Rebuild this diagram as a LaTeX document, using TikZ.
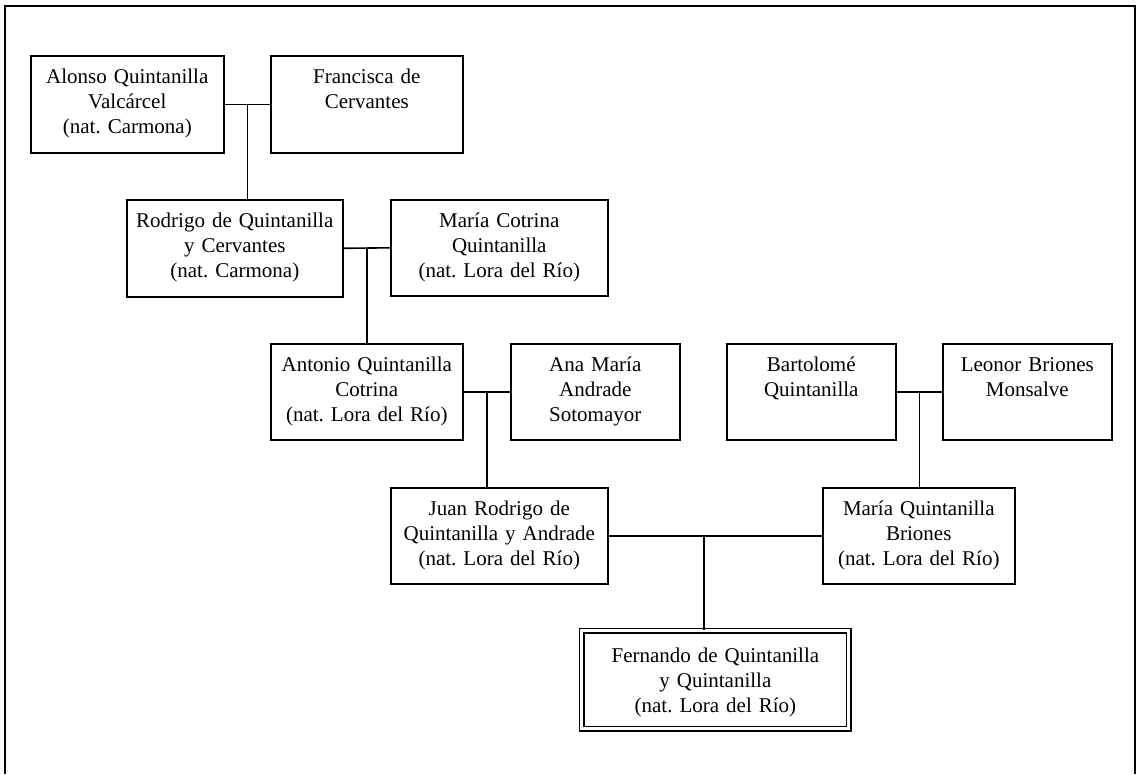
\documentclass[tikz,border=0pt]{standalone}
\usepackage{fontspec}
\setmainfont{Liberation Serif}
\usetikzlibrary{calc}
\frenchspacing

\begin{document}
\begin{tikzpicture}[x=1pt, y=-1pt, font=\fontsize{21}{25}\selectfont,
  person/.style={draw, line width=1.6pt, anchor=north west, align=center,
                 inner xsep=0pt, inner ysep=0pt, text height=28pt, text depth=68pt},
  heir/.style={person, double, line width=1.8pt, double distance=3pt,
               text height=32pt, text depth=66pt},
  link/.style={line width=1.6pt}]
\useasboundingbox (0,0) rectangle (1140,774);
% page frame (open at the bottom)
\draw[line width=2pt] (5,774) |- (1135,6) -- (1135,774);
% first generation
\node[person, text width=193pt, text depth=69pt] (alonso) at (30,55) {Alonso Quintanilla\\ Valcárcel\\ (nat. Carmona)};
\node[person, text width=192pt, text depth=69pt] (francisca) at (270,55) {Francisca de\\ Cervantes};
% second generation
\node[person, text width=216pt, text depth=69pt] (rodrigo) at (126,199) {Rodrigo de Quintanilla\\ y Cervantes\\ (nat. Carmona)};
\node[person, text width=217pt] (cotrina) at (390,199) {María Cotrina\\ Quintanilla\\ (nat. Lora del Río)};
% third generation
\node[person, text width=192pt] (antonio) at (270,343) {Antonio Quintanilla\\ Cotrina\\ (nat. Lora del Río)};
\node[person, text width=169pt] (ana) at (510,343) {Ana María\\ Andrade\\ Sotomayor};
\node[person, text width=169pt] (bartolome) at (726,343) {Bartolomé\\ Quintanilla};
\node[person, text width=169pt] (leonor) at (942,343) {Leonor Briones\\ Monsalve};
% fourth generation
\node[person, text width=217pt] (juan) at (390,487) {Juan Rodrigo de\\ Quintanilla y Andrade\\ (nat. Lora del Río)};
\node[person, text width=192pt] (mariaq) at (822,487) {María Quintanilla\\ Briones\\ (nat. Lora del Río)};
% the one the tree is about
\node[heir, text width=267pt] (fernando) at (581,630) {Fernando de Quintanilla\\ y Quintanilla\\ (nat. Lora del Río)};
% marriages and descent
\coordinate (m1) at ($(alonso.east)!0.5!(francisca.west)$);
\coordinate (m2) at ($(rodrigo.east)!0.5!(cotrina.west)$);
\coordinate (m3) at ($(antonio.east)!0.5!(ana.west)$);
\coordinate (m4) at ($(bartolome.east)!0.5!(leonor.west)$);
\coordinate (m5) at ($(juan.east)!0.447!(mariaq.west)$);
\draw[link] (alonso.east) -- (francisca.west); \draw[link] (m1) -- (m1 |- rodrigo.north);
\draw[link] (rodrigo.east) -- (cotrina.west); \draw[link] (m2) -- (m2 |- antonio.north);
\draw[link] (antonio.east) -- (ana.west); \draw[link] (m3) -- (m3 |- juan.north);
\draw[link] (bartolome.east) -- (leonor.west); \draw[link] (m4) -- (m4 |- mariaq.north);
\draw[link] (juan.east) -- (mariaq.west); \draw[link] (m5) -- (m5 |- fernando.north);
\end{tikzpicture}
\end{document}
